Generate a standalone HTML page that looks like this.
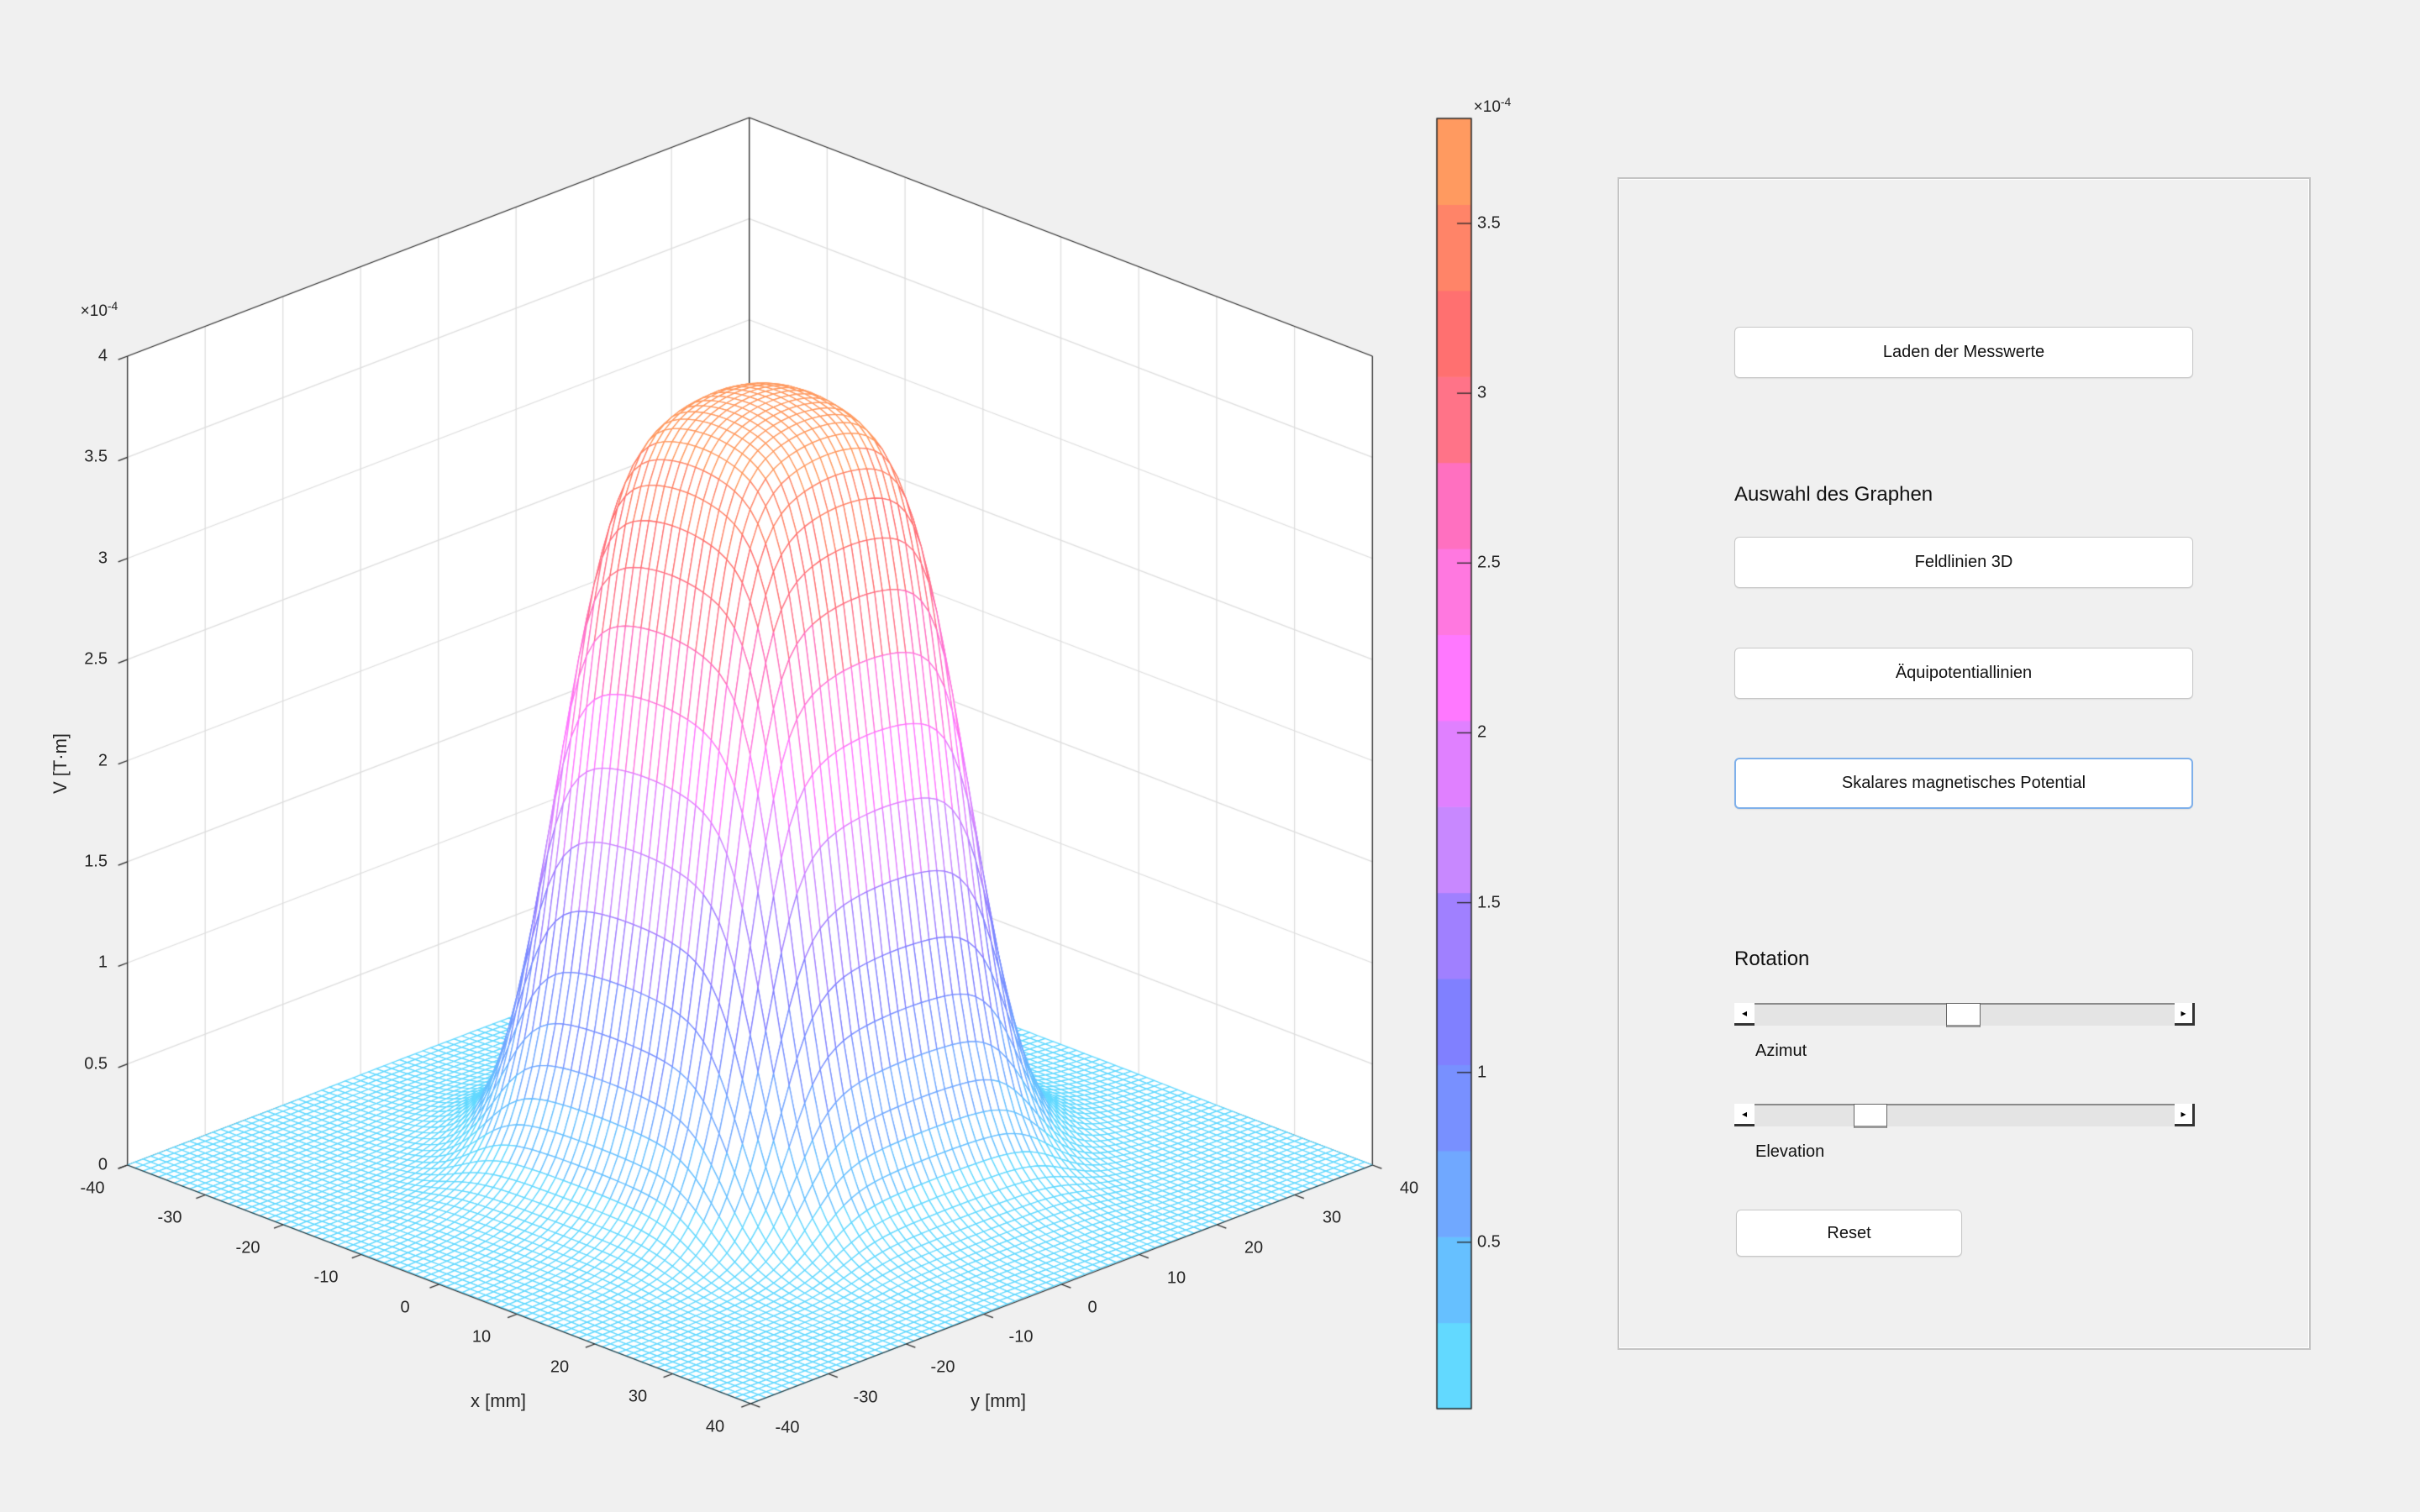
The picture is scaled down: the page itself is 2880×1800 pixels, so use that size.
<!DOCTYPE html>
<html><head><meta charset="utf-8">
<style>
html,body{margin:0;padding:0;}
body{width:2880px;height:1800px;background:#f0f0f0;position:relative;overflow:hidden;font-family:"Liberation Sans",sans-serif;color:#262626;}
canvas{position:absolute;left:0;top:0;}
.t{position:absolute;font-size:20px;transform:translate(-50%,-50%);white-space:nowrap;}
.zr{position:absolute;font-size:20px;width:80px;text-align:right;left:48px;transform:translateY(-50%);}
.cb{position:absolute;font-size:20px;left:1758px;transform:translateY(-50%);}
.panel{position:absolute;left:1925px;top:211px;width:821px;height:1392px;border:2px solid #c4c4c4;box-shadow:inset 0 0 0 1px #fff;}
.btn{position:absolute;background:#fff;border:1px solid #c8c8c8;border-radius:6px;font-size:20px;display:flex;align-items:center;justify-content:center;color:#111;box-shadow:0 1px 1px rgba(0,0,0,.08);}
.lbl{position:absolute;color:#111;}
.sl{position:absolute;left:2064px;width:548px;height:27px;background:#e4e4e4;border-top:2px solid #8a8a8a;box-sizing:border-box;}
.arr{position:absolute;top:-2px;width:24px;height:27px;background:#fff;box-sizing:border-box;font-size:12px;display:flex;align-items:center;justify-content:center;color:#000;}
.thumb{position:absolute;top:-2px;height:29px;background:#fff;border:1px solid #666;box-sizing:border-box;border-bottom:3px solid #999;}
</style></head><body>
<canvas id="c" width="2880" height="1800"></canvas>

<div class="zr" style="top:1387px">0</div>
<div class="zr" style="top:1267px">0.5</div>
<div class="zr" style="top:1146px">1</div>
<div class="zr" style="top:1026px">1.5</div>
<div class="zr" style="top:906px">2</div>
<div class="zr" style="top:785px">2.5</div>
<div class="zr" style="top:665px">3</div>
<div class="zr" style="top:544px">3.5</div>
<div class="zr" style="top:424px">4</div>
<div class="t" style="left:118px;top:369px;font-size:19px">×10<sup style="font-size:14px">-4</sup></div>
<div class="t" style="left:72px;top:909px;font-size:22px;transform:translate(-50%,-50%) rotate(-90deg)">V [T·m]</div>

<div class="t" style="left:110px;top:1415px">-40</div>
<div class="t" style="left:202px;top:1450px">-30</div>
<div class="t" style="left:295px;top:1486px">-20</div>
<div class="t" style="left:388px;top:1521px">-10</div>
<div class="t" style="left:482px;top:1557px">0</div>
<div class="t" style="left:573px;top:1592px">10</div>
<div class="t" style="left:666px;top:1628px">20</div>
<div class="t" style="left:759px;top:1663px">30</div>
<div class="t" style="left:851px;top:1699px">40</div>
<div class="t" style="left:593px;top:1668px;font-size:22px">x [mm]</div>

<div class="t" style="left:937px;top:1700px">-40</div>
<div class="t" style="left:1030px;top:1664px">-30</div>
<div class="t" style="left:1122px;top:1628px">-20</div>
<div class="t" style="left:1215px;top:1592px">-10</div>
<div class="t" style="left:1300px;top:1557px">0</div>
<div class="t" style="left:1400px;top:1522px">10</div>
<div class="t" style="left:1492px;top:1486px">20</div>
<div class="t" style="left:1585px;top:1450px">30</div>
<div class="t" style="left:1677px;top:1415px">40</div>
<div class="t" style="left:1188px;top:1668px;font-size:22px">y [mm]</div>

<div class="cb" style="top:1479px">0.5</div>
<div class="cb" style="top:1277px">1</div>
<div class="cb" style="top:1075px">1.5</div>
<div class="cb" style="top:872px">2</div>
<div class="cb" style="top:670px">2.5</div>
<div class="cb" style="top:468px">3</div>
<div class="cb" style="top:266px">3.5</div>
<div class="t" style="left:1776px;top:126px;font-size:19px">×10<sup style="font-size:14px">-4</sup></div>

<div class="panel"></div>
<div class="btn" style="left:2064px;top:389px;width:544px;height:59px">Laden der Messwerte</div>
<div class="lbl" style="left:2064px;top:575px;font-size:24px">Auswahl des Graphen</div>
<div class="btn" style="left:2064px;top:639px;width:544px;height:59px">Feldlinien 3D</div>
<div class="btn" style="left:2064px;top:771px;width:544px;height:59px">Äquipotentiallinien</div>
<div class="btn" style="left:2064px;top:902px;width:542px;height:57px;border:2px solid #7fb0ea">Skalares magnetisches Potential</div>
<div class="lbl" style="left:2064px;top:1128px;font-size:24px">Rotation</div>

<div class="sl" style="top:1194px">
  <div class="arr" style="left:0;border-bottom:3px solid #333">◂</div>
  <div class="thumb" style="left:252px;width:41px"></div>
  <div class="arr" style="right:0;border-right:3px solid #333;border-bottom:3px solid #333">▸</div>
</div>
<div class="lbl" style="left:2089px;top:1240px;font-size:20px">Azimut</div>
<div class="sl" style="top:1314px">
  <div class="arr" style="left:0;border-bottom:3px solid #333">◂</div>
  <div class="thumb" style="left:142px;width:40px"></div>
  <div class="arr" style="right:0;border-right:3px solid #333;border-bottom:3px solid #333">▸</div>
</div>
<div class="lbl" style="left:2089px;top:1360px;font-size:20px">Elevation</div>
<div class="btn" style="left:2066px;top:1440px;width:267px;height:54px">Reset</div>

<script>
(function(){
const cv=document.getElementById('c');const g=cv.getContext('2d');
function P(x,y,z){return [892.5+9.27*x+9.25*y,1387+3.55*x-3.55*y-z*240.75];}
function line(a,b,col,w){g.strokeStyle=col;g.lineWidth=w;g.beginPath();g.moveTo(a[0],a[1]);g.lineTo(b[0],b[1]);g.stroke();}
const L0=P(-40,-40,0),F0=P(40,-40,0),R0=P(40,40,0),B4=P(-40,40,4),L4=P(-40,-40,4),R4=P(40,40,4);
g.fillStyle='#fff';g.beginPath();
[L4,B4,R4,R0,F0,L0].forEach(function(p,i){if(i)g.lineTo(p[0],p[1]);else g.moveTo(p[0],p[1]);});g.closePath();g.fill();
const gc='#dedede';
for(let z=0.5;z<=3.51;z+=0.5){line(P(-40,-40,z),P(-40,40,z),gc,1.3);line(P(-40,40,z),P(40,40,z),gc,1.3);}
for(let v=-30;v<=30;v+=10){line(P(-40,v,0),P(-40,v,4),gc,1.3);line(P(v,40,0),P(v,40,4),gc,1.3);
 line(P(v,-40,0),P(v,40,0),gc,1.3);line(P(-40,v,0),P(40,v,0),gc,1.3);}
const bc='#262626';
line(L4,B4,bc,1.3);line(B4,R4,bc,1.3);line(P(-40,40,0),B4,bc,1.3);line(L0,L4,bc,1.3);line(R0,R4,bc,1.3);
line(P(-40,40,0),L0,bc,1.1);line(P(-40,40,0),R0,bc,1.1);
const cmap=['#62d9ff','#66c0ff','#70a8ff','#7890ff','#8080ff','#a080ff','#c888ff','#e080ff','#ff78ff','#ff78e0','#ff70c0','#ff7388','#ff7070','#ff8468','#ff9a60'];
const N=81;const Z=[];
function p(t){return 1/(1+Math.pow(Math.abs(t)/16,6));}
for(let i=0;i<N;i++){Z.push([]);for(let j=0;j<N;j++){const x=-40+i,y=-40+j;
 const xx=x-0.8,yy=y-0.8;const dome=Math.max(0,1-0.0004*(xx*xx+yy*yy));
 Z[i].push(3.8*p(xx)*p(yy)*dome);}}
g.lineJoin='round';
for(let k=-(N-2);k<=N-2;k++){
 for(let i=0;i<N-1;i++){const j=i-k;if(j<0||j>N-2)continue;
  const x=-40+i,y=-40+j;
  const a=P(x,y,Z[i][j]),b=P(x+1,y,Z[i+1][j]),c=P(x+1,y+1,Z[i+1][j+1]),d=P(x,y+1,Z[i][j+1]);
  const zz=(Z[i][j]+Z[i+1][j]+Z[i+1][j+1]+Z[i][j+1])/4;
  let ci=Math.floor((zz-0.01)/3.8*15);ci=Math.max(0,Math.min(14,ci));
  g.beginPath();g.moveTo(a[0],a[1]);g.lineTo(b[0],b[1]);g.lineTo(c[0],c[1]);g.lineTo(d[0],d[1]);g.closePath();
  g.fillStyle='#fff';g.fill();g.strokeStyle=cmap[ci];g.lineWidth=1.3;g.stroke();
 }}
line(L0,F0,bc,1.1);line(F0,R0,bc,1.1);
for(let v=-40;v<=40;v+=10){
 const a=P(v,-40,0);line(a,[a[0]-11,a[1]+4.2],bc,1.3);
 const b=P(40,v,0);line(b,[b[0]+11,b[1]+4.2],bc,1.3);}
for(let z=0;z<=4.01;z+=0.5){const a=P(-40,-40,z);line(a,[a[0]-11,a[1]+4.2],bc,1.3);}
const cbTop=141,cbBot=1677,h=(cbBot-cbTop)/15;
for(let i=0;i<15;i++){g.fillStyle=cmap[i];g.fillRect(1710,cbBot-(i+1)*h,41,h+0.6);}
g.strokeStyle=bc;g.lineWidth=1.5;g.strokeRect(1710,cbTop,41,cbBot-cbTop);
[0.5,1,1.5,2,2.5,3,3.5].forEach(function(v){const y=1677-(v-0.01)*404.3;line([1734,y],[1751,y],bc,1.3);});
})();
</script>
</body></html>
